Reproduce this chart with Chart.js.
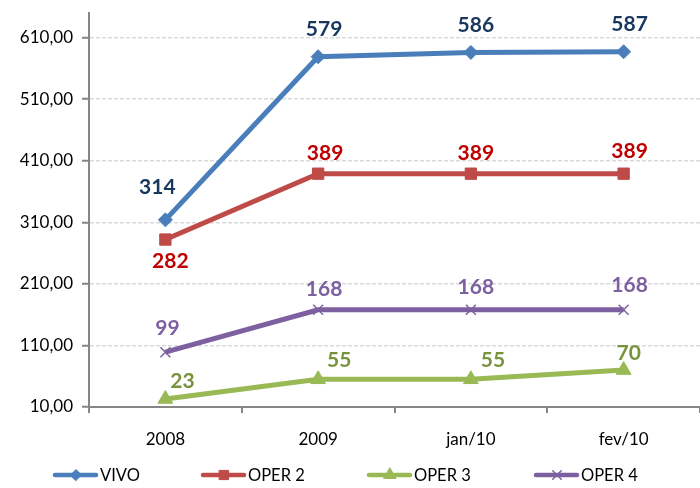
<!DOCTYPE html>
<html><head><meta charset="utf-8">
<script src="https://cdn.jsdelivr.net/npm/chart.js@4"></script>
<style>html,body{margin:0;padding:0;background:#fff}#wrap{width:700px;height:488px}</style>
</head><body><div id="wrap"><canvas id="c" width="700" height="488"></canvas></div>
<script>
const categories = ["2008", "2009", "jan/10", "fev/10"];
const vivo  = [314, 579, 586, 587];
const oper2 = [282, 389, 389, 389];
const oper3 = [23, 55, 55, 70];
const oper4 = [99, 168, 168, 168];
const seriesNames = ["VIVO", "OPER 2", "OPER 3", "OPER 4"];
const yTicks = [10, 110, 210, 310, 410, 510, 610];

const lineColors = ["#4A7EBB", "#BE4B48", "#98B954", "#7D60A0"];
const labelColors = ["#17375E", "#C00000", "#77933C", "#7D60A0"];
const pointStyles = ["rectRot", "rect", "triangle", "crossRot"];
const pointRadii = [7, 8, 8.5, 7];
const legendRadii = [5.5, 6.5, 7, 6];
// label offsets (dx, dy) per series/point, in pixels
const labelOffsets = [
  [[-8,-33],[6,-27],[5,-27],[6,-28]],
  [[5,22],[7,-20],[5,-20],[6,-22]],
  [[17,-18],[21,-19],[22,-19],[5,-17]],
  [[2,-24],[6,-20],[5,-22],[6,-24]]
];
const FONT = 'Lato, "Open Sans", sans-serif';

const labelPlugin = {
  id: 'labels',
  afterDatasetsDraw(chart) {
    const ctx = chart.ctx;
    ctx.save();
    ctx.font = 'bold 21px ' + FONT;
    ctx.textAlign = 'center';
    ctx.textBaseline = 'middle';
    chart.data.datasets.forEach((ds, i) => {
      const meta = chart.getDatasetMeta(i);
      meta.data.forEach((pt, j) => {
        const off = labelOffsets[i][j];
        ctx.fillStyle = labelColors[i];
        ctx.fillText(String(ds.data[j]), pt.x + off[0], pt.y + off[1]);
      });
    });
    ctx.restore();
  }
};

const legendPlugin = {
  id: 'customLegend',
  afterDraw(chart) {
    const ctx = chart.ctx;
    const xs = [55, 203, 369, 536];
    const y = 475;
    ctx.save();
    chart.data.datasets.forEach((ds, i) => {
      const x0 = xs[i];
      ctx.strokeStyle = lineColors[i];
      ctx.fillStyle = lineColors[i];
      ctx.lineWidth = 4.5;
      ctx.lineCap = 'round';
      ctx.beginPath(); ctx.moveTo(x0, y); ctx.lineTo(x0 + 41, y); ctx.stroke();
      ctx.lineWidth = i === 3 ? 1.5 : 1;
      Chart.helpers.drawPoint(ctx, {
        pointStyle: pointStyles[i], radius: legendRadii[i], rotation: 0,
        borderWidth: i === 3 ? 1.5 : 1
      }, x0 + 21, y);
      ctx.fillStyle = '#000';
      ctx.font = '16.5px ' + FONT;
      ctx.textAlign = 'left';
      ctx.textBaseline = 'middle';
      ctx.fillText(ds.label, x0 + 45, y + 1);
    });
    ctx.restore();
  }
};

const seriesData = [vivo, oper2, oper3, oper4];
const datasets = seriesData.map((d, i) => ({
  label: seriesNames[i],
  data: d,
  borderColor: lineColors[i],
  backgroundColor: lineColors[i],
  borderWidth: 5,
  pointStyle: pointStyles[i],
  pointRadius: pointRadii[i],
  pointBorderWidth: i === 3 ? 1.5 : 1,
  pointBorderColor: lineColors[i],
  pointBackgroundColor: lineColors[i],
  tension: 0,
  fill: false,
  clip: false
}));

new Chart(document.getElementById('c'), {
  type: 'line',
  data: { labels: categories, datasets },
  options: {
    responsive: false,
    animation: false,
    devicePixelRatio: 1,
    layout: { autoPadding: false, padding: { top: 13, right: 0, left: 0, bottom: 0 } },
    plugins: { legend: { display: false }, tooltip: { enabled: false } },
    scales: {
      x: {
        offset: true,
        grid: { offset: true, drawOnChartArea: false, drawTicks: true, tickLength: 6, color: '#868686', lineWidth: 2 },
        border: { color: '#868686', width: 2 },
        ticks: { color: '#000', font: { family: FONT, size: 17 }, padding: 16, maxRotation: 0 },
        afterFit(s) { s.height = 81; s.paddingLeft = 0; s.paddingRight = 0; }
      },
      y: {
        min: 10, max: 650,
        afterBuildTicks(s) { s.ticks = yTicks.map(v => ({ value: v })); },
        grid: { color: '#D9D9D9', lineWidth: 1.5, tickColor: '#868686', tickLength: 7, drawTicks: true, tickWidth: 2, tickBorderDash: [] },
        border: { color: '#868686', width: 2, dash: [4, 2] },
        ticks: {
          color: '#000', font: { family: FONT, size: 17 }, padding: 9,
          callback: v => v.toFixed(2).replace('.', ',')
        },
        afterFit(s) { s.width = 89; s.paddingTop = 0; s.paddingBottom = 0; }
      }
    }
  },
  plugins: [labelPlugin, legendPlugin]
});
</script></body></html>
